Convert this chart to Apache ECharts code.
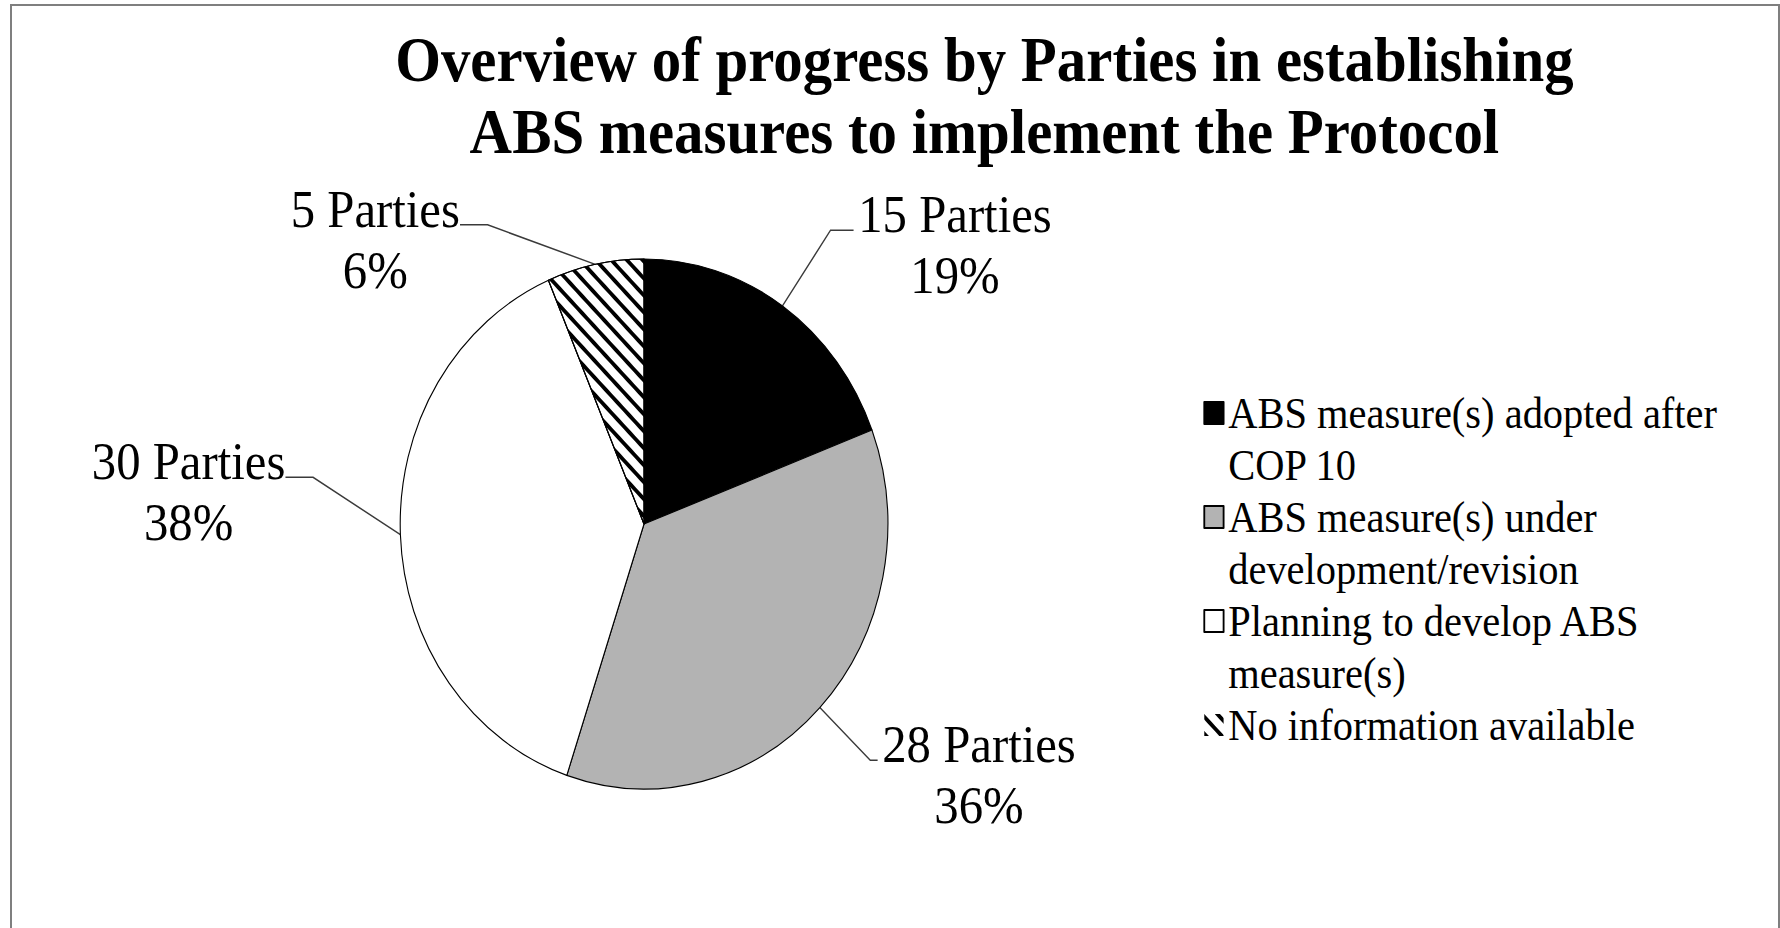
<!DOCTYPE html>
<html>
<head>
<meta charset="utf-8">
<script src="https://cdn.jsdelivr.net/npm/echarts@6.0.0/dist/echarts.min.js"></script>
<style>
html, body { margin: 0; padding: 0; background: #ffffff; overflow: hidden; width: 1780px; height: 928px; }
#chart { position: absolute; left: 0; top: 0; width: 1935px; height: 928px; transform: scaleX(0.92); transform-origin: 0 0; }
#frame { position: absolute; left: 10px; top: 4px; width: 1770px; height: 926px; box-sizing: border-box; border: 2px solid #7f7f7f; pointer-events: none; }
</style>
</head>
<body>
<div id="chart"></div>
<div id="frame"></div>
<script>
// ---- data ----
const titleLines = ['Overview of progress by Parties in establishing', 'ABS measures to implement the Protocol'];
const categories = [
  'ABS measure(s) adopted after COP 10',
  'ABS measure(s) under development/revision',
  'Planning to develop ABS measure(s)',
  'No information available'
];
const legendLabels = [
  'ABS measure(s) adopted after\nCOP 10',
  'ABS measure(s) under\ndevelopment/revision',
  'Planning to develop ABS\nmeasure(s)',
  'No information available'
];
const partyCounts = [15, 28, 30, 5];

// ---- style / layout (not data) ----
const FONT = '"Liberation Serif", "Times New Roman", serif';
const sliceColors = ['#000000', '#b3b3b3', '#ffffff', '#ffffff'];
const lineLen1 = [92, 76, 90, 25];
const lineLen2 = [25, 8, 30, 30];
const labelNudge = [null, null, [0, -61], [-107, -15]];
const hatch = {
  symbol: 'rect', symbolSize: 1, dashArrayX: [1, 0], dashArrayY: [4, 8],
  rotation: Math.PI / 4, color: '#000000', backgroundColor: '#ffffff'
};

const total = partyCounts.reduce((a, b) => a + b, 0);

// legend text: first line sits level with the marker (blank line above, pad to 3 lines)
function legendText(name) {
  const lines = legendLabels[categories.indexOf(name)].split('\n');
  const out = [' '].concat(lines);
  while (out.length < 3) out.push(' ');
  return out.join('\n');
}

const chart = echarts.init(document.getElementById('chart'), null, { renderer: 'svg' });
chart.setOption({
  animation: false,
  backgroundColor: '#ffffff',
  title: {
    text: titleLines.join('\n'),
    left: 1070, top: 23, textAlign: 'center', padding: 0,
    textStyle: { fontFamily: FONT, fontWeight: 'bold', fontSize: 64, lineHeight: 72, color: '#000' }
  },
  legend: {
    orient: 'vertical', left: 1308, top: 335, padding: 0, itemGap: -52,
    itemWidth: 21, itemHeight: 22, icon: 'rect', selectedMode: false,
    formatter: legendText,
    textStyle: { fontFamily: FONT, fontSize: 44, lineHeight: 52, color: '#000' },
    data: categories.map((name, i) => (i === 3
      ? { name, itemStyle: { borderWidth: 0 } }
      : { name }))
  },
  series: [{
    type: 'pie',
    center: [700, 524],
    radius: 265,
    startAngle: 90,
    clockwise: true,
    silent: true,
    avoidLabelOverlap: false,
    itemStyle: { borderColor: '#000', borderWidth: 1.2 },
    label: {
      show: true, position: 'outside', color: '#000',
      fontFamily: FONT, fontSize: 53, lineHeight: 61, padding: [30, 0, 0, 0],
      formatter: p => `{a|${p.value} Parties}\n{a|${Math.round(p.value / total * 100)}%}`,
      rich: { a: { align: 'center', fontFamily: FONT, fontSize: 53, lineHeight: 61, color: '#000' } }
    },
    labelLine: { show: true, smooth: false, lineStyle: { color: '#3a3a3a', width: 1.5 } },
    labelLayout: p => {
      const n = labelNudge[p.dataIndex];
      if (!n) return {};
      const r = p.labelRect;
      return { x: r.x + r.width / 2 + n[0], y: r.y + r.height / 2 + n[1], align: 'center', verticalAlign: 'middle' };
    },
    data: categories.map((name, i) => ({
      name,
      value: partyCounts[i],
      itemStyle: i === 3 ? { color: sliceColors[i], decal: hatch } : { color: sliceColors[i] },
      labelLine: { length: lineLen1[i], length2: lineLen2[i] }
    }))
  }]
});
</script>
</body>
</html>
